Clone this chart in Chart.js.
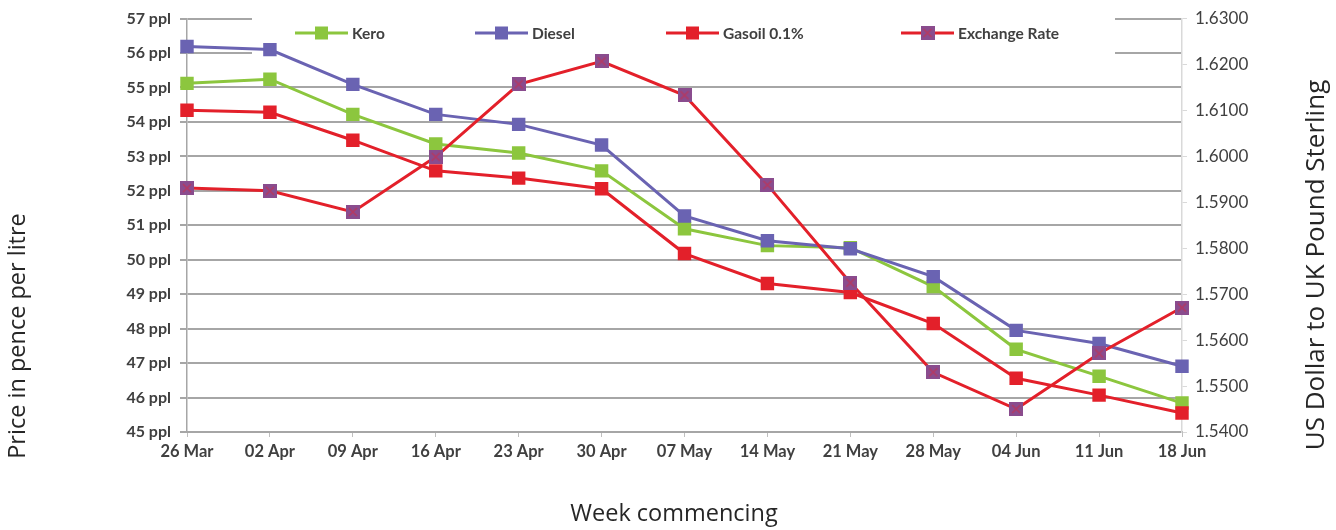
<!DOCTYPE html>
<html>
<head>
<meta charset="utf-8">
<script src="https://cdn.jsdelivr.net/npm/chart.js@4/dist/chart.umd.min.js"></script>
<style>
  html,body{margin:0;padding:0;background:#fff;}
  #wrap{width:1336px;height:530px;}
</style>
</head>
<body>
<div id="wrap"><canvas id="chart" width="1336" height="530"></canvas></div>
<script>
// Daten
const weeks = ['26 Mar','02 Apr','09 Apr','16 Apr','23 Apr','30 Apr','07 May','14 May','21 May','28 May','04 Jun','11 Jun','18 Jun'];
const kero = [55.12,55.24,54.22,53.36,53.10,52.58,50.90,50.41,50.35,49.22,47.40,46.62,45.84];
const diesel = [56.19,56.10,55.09,54.22,53.93,53.33,51.27,50.55,50.32,49.51,47.95,47.57,46.91];
const gasoil = [54.34,54.28,53.47,52.58,52.37,52.06,50.18,49.31,49.05,48.15,46.56,46.07,45.55];
const exchangeRate = [1.5931,1.5925,1.5879,1.5999,1.6157,1.6207,1.6133,1.5938,1.5725,1.5530,1.5450,1.5571,1.5671];
const pplRange = [45,57];
const rateRange = [1.54,1.63];

// Farben
const cKero='#8cc63e', cDiesel='#6a63b2', cGasoil='#e3202a', cRateLine='#e3202a', cRateMark='#8a4c8e';

// Marker fuer Exchange Rate: lila Quadrat mit X
function rateMarker(){
  const c=document.createElement('canvas'); c.width=14; c.height=14;
  const g=c.getContext('2d');
  g.fillStyle=cRateMark; g.fillRect(0,0,14,14);
  g.strokeStyle='rgba(200,50,80,0.7)'; g.lineWidth=1.5;
  g.beginPath(); g.moveTo(3,3); g.lineTo(11,11); g.moveTo(11,3); g.lineTo(3,11); g.stroke();
  return c;
}
const rateImg = rateMarker();

const ds = (label,data,color,mark,axis,order)=>({
  label, data, borderColor:color, backgroundColor:mark, borderWidth:3,
  pointStyle:'rect', pointRadius:9.5, pointHoverRadius:9.5, pointBorderWidth:0,
  pointBackgroundColor:mark, yAxisID:axis, order, tension:0
});

const legendItems = [
  {label:'Kero', line:cKero, mark:cKero, x:295},
  {label:'Diesel', line:cDiesel, mark:cDiesel, x:475},
  {label:'Gasoil 0.1%', line:cGasoil, mark:cGasoil, x:666},
  {label:'Exchange Rate', line:cRateLine, mark:'img', x:901}
];

// Legende + Achsentitel
const deco = {
  id:'deco',
  beforeDatasetsDraw(chart){
    const ctx=chart.ctx; ctx.save();
    ctx.fillStyle='#fff'; ctx.fillRect(252,0,863,58);
    ctx.font='bold 15.5px Lato'; ctx.textBaseline='middle';
    for(const it of legendItems){
      const y=33;
      ctx.strokeStyle=it.line; ctx.lineWidth=3;
      ctx.beginPath(); ctx.moveTo(it.x,y); ctx.lineTo(it.x+53,y); ctx.stroke();
      if(it.mark==='img') ctx.drawImage(rateImg,it.x+19.5,y-7,14,14);
      else { ctx.fillStyle=it.mark; ctx.fillRect(it.x+20,y-6.5,13,13); }
      ctx.fillStyle='#404040'; ctx.fillText(it.label,it.x+57,y+1);
    }
    ctx.restore();
  },
  afterDraw(chart){
    const ctx=chart.ctx; ctx.save();
    ctx.fillStyle='#262626'; ctx.textAlign='center'; ctx.textBaseline='middle';
    ctx.font='23.5px "Open Sans"';
    ctx.fillText('Week commencing',674,514);
    ctx.save(); ctx.translate(18,336); ctx.rotate(-Math.PI/2); ctx.fillText('Price in pence per litre',0,0); ctx.restore();
    ctx.font='26px "Open Sans"';
    ctx.save(); ctx.translate(1317,265); ctx.rotate(-Math.PI/2); ctx.fillText('US Dollar to UK Pound Sterling',0,0); ctx.restore();
    ctx.restore();
  }
};

new Chart(document.getElementById('chart'),{
  type:'line',
  data:{
    labels:weeks,
    datasets:[
      ds('Kero',kero,cKero,cKero,'y',4),
      ds('Diesel',diesel,cDiesel,cDiesel,'y',3),
      ds('Gasoil 0.1%',gasoil,cGasoil,cGasoil,'y',2),
      Object.assign(ds('Exchange Rate',exchangeRate,cRateLine,cRateMark,'y1',1),{pointStyle:rateImg})
    ]
  },
  options:{
    responsive:false, animation:false,
    layout:{padding:{top:17,left:0,right:0,bottom:0}},
    plugins:{legend:{display:false}, tooltip:{enabled:false}},
    scales:{
      x:{
        offset:false,
        grid:{drawOnChartArea:false, drawTicks:true, tickLength:5, color:'#bfbfbf'},
        border:{display:true, color:'#a6a6a6', width:2},
        ticks:{font:{family:'Lato',size:16.5,weight:'bold'}, color:'#404040', padding:5, maxRotation:0, autoSkip:false},
        afterFit(s){ s.height=98; }
      },
      y:{
        position:'left', min:pplRange[0], max:pplRange[1],
        grid:{color:'#a6a6a6', lineWidth:2, tickLength:7},
        border:{display:true, color:'#a6a6a6', width:1.5},
        ticks:{stepSize:1, callback:v=>v+' ppl', font:{family:'Lato',size:16,weight:'bold'}, color:'#404040', padding:9},
        afterFit(s){ s.width=187; }
      },
      y1:{
        position:'right', min:rateRange[0], max:rateRange[1],
        grid:{drawOnChartArea:false, color:'#d9d9d9', tickLength:5},
        border:{display:true, color:'#d9d9d9', width:1.5},
        ticks:{stepSize:0.01, callback:v=>Number(v).toFixed(4), font:{family:'Lato',size:17}, color:'#404040', padding:8},
        afterFit(s){ s.width=154; }
      }
    }
  },
  plugins:[deco]
});
</script>
</body>
</html>
